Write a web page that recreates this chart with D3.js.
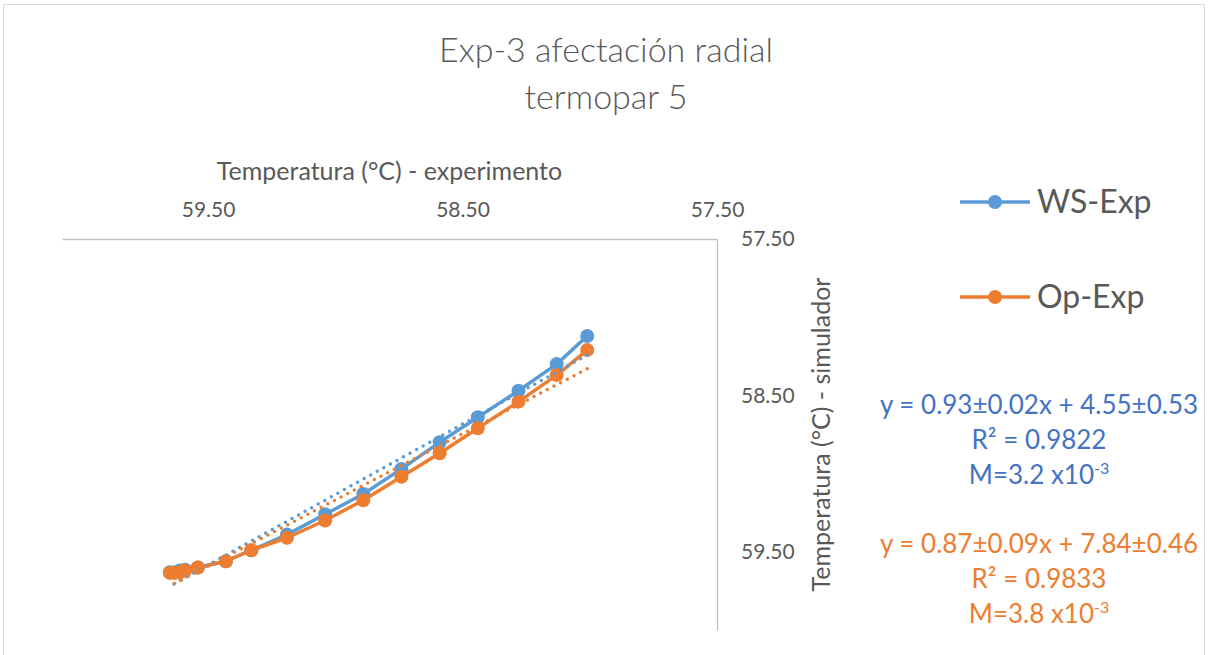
<!DOCTYPE html>
<html>
<head>
<meta charset="utf-8">
<script src="https://cdn.jsdelivr.net/npm/d3@7"></script>
<style>
  body { margin: 0; background: #fff; }
  text { font-family: Lato, "Open Sans", sans-serif; }
</style>
</head>
<body>
<script>
    //Data
        const xExp = [58.01, 58.13, 58.28, 58.44, 58.59, 58.74, 58.89, 59.04, 59.19, 59.33, 59.43, 59.54, 59.59, 59.61, 59.63, 59.65];
        const wsSim = [58.12, 58.30, 58.47, 58.64, 58.80, 58.97, 59.13, 59.26, 59.39, 59.49, 59.56, 59.60, 59.615, 59.62, 59.63, 59.63];
        const opSim = [58.21, 58.37, 58.54, 58.71, 58.87, 59.02, 59.17, 59.30, 59.41, 59.49, 59.56, 59.60, 59.62, 59.63, 59.635, 59.635];
        const xTicks = [59.5, 58.5, 57.5];
        const yTicks = [57.5, 58.5, 59.5];
        const seriesNames = ["WS-Exp", "Op-Exp"];
        const wsEq = ["y = 0.93±0.02x + 4.55±0.53", "R² = 0.9822", "M=3.2 x10"];
        const opEq = ["y = 0.87±0.09x + 7.84±0.46", "R² = 0.9833", "M=3.8 x10"];

    //consts
        const width = 1208;
        const height = 655;
        const plot = {left: 62, right: 717, top: 239, bottom: 630};
        const blue = "#5B9BD5", orange = "#ED7D31", eqBlue = "#4472C4", grey = "#595959";

    //Scales - both reversed like the excel chart
        const xScale = d3.scaleLinear().domain([60.074, 57.5]).range([plot.left, plot.right]);
        const yScale = d3.scaleLinear().domain([57.5, 60.0]).range([plot.top, plot.bottom]);

    //SVG
        const svg = d3.select("body").append("svg")
            .attr("width", width)
            .attr("height", height);

        svg.append("rect")
            .attr("x", 3.5).attr("y", 4.5)
            .attr("width", 1201).attr("height", 700)
            .attr("fill", "#fff").attr("stroke", "#d9d9d9");

    //Title
        svg.append("text")
            .attr("x", 606).attr("y", 62)
            .attr("text-anchor", "middle")
            .attr("font-size", 34).attr("font-weight", 300)
            .attr("fill", grey)
            .text("Exp-3 afectación radial");
        svg.append("text")
            .attr("x", 606).attr("y", 109)
            .attr("text-anchor", "middle")
            .attr("font-size", 34).attr("font-weight", 300)
            .attr("fill", grey)
            .text("termopar 5");

    //Axes
        const topAxis = d3.axisTop(xScale).tickValues(xTicks).tickSize(0).tickPadding(22).tickFormat(d3.format(".2f"));
        const gx = svg.append("g")
            .attr("transform", "translate(0," + plot.top + ")")
            .call(topAxis);
        gx.select(".domain").attr("stroke", "#bfbfbf").attr("stroke-width", 1.3);
        gx.selectAll("text").attr("font-size", 21).attr("fill", grey).style("font-family", "Lato, sans-serif");

        const rightAxis = d3.axisRight(yScale).tickValues(yTicks).tickSize(0).tickPadding(24).tickFormat(d3.format(".2f"));
        const gy = svg.append("g")
            .attr("transform", "translate(" + plot.right + ",0)")
            .call(rightAxis);
        gy.select(".domain").attr("stroke", "#bfbfbf").attr("stroke-width", 1.3);
        gy.selectAll("text").attr("font-size", 21).attr("fill", grey).style("font-family", "Lato, sans-serif");

        svg.append("text")
            .attr("x", (plot.left + plot.right) / 2).attr("y", 180)
            .attr("text-anchor", "middle")
            .attr("font-size", 25).attr("fill", grey)
            .text("Temperatura (°C) - experimento");

        svg.append("text")
            .attr("transform", "translate(830," + (plot.top + plot.bottom) / 2 + ") rotate(-90)")
            .attr("text-anchor", "middle")
            .attr("font-size", 25).attr("fill", grey)
            .text("Temperatura (°C) - simulador");

    //Series
        const series = [
            {name: seriesNames[0], values: wsSim, color: blue},
            {name: seriesNames[1], values: opSim, color: orange}
        ];

        const line = d3.line()
            .x(d => xScale(d[0]))
            .y(d => yScale(d[1]));

        series.forEach(s => {
            const pts = xExp.map((x, i) => [x, s.values[i]]);
            svg.append("path")
                .datum(pts)
                .attr("d", line)
                .attr("fill", "none")
                .attr("stroke", s.color)
                .attr("stroke-width", 3.5)
                .attr("stroke-linejoin", "round");
            svg.append("g").selectAll("circle")
                .data(pts)
                .enter()
                .append("circle")
                .attr("cx", d => xScale(d[0]))
                .attr("cy", d => yScale(d[1]))
                .attr("r", 7)
                .attr("fill", s.color);
        });

    //Linear trendlines (least squares of the drawn points)
        series.forEach(s => {
            const mx = d3.mean(xExp), my = d3.mean(s.values);
            let sxy = 0, sxx = 0;
            xExp.forEach((x, i) => { sxy += (x - mx) * (s.values[i] - my); sxx += (x - mx) * (x - mx); });
            const b = sxy / sxx, a = my - b * mx;
            const ends = d3.extent(xExp).map(x => [x, a + b * x]);
            svg.append("path")
                .datum(ends)
                .attr("d", line)
                .attr("fill", "none")
                .attr("stroke", s.color)
                .attr("stroke-width", 3.5)
                .attr("stroke-linecap", "round")
                .attr("stroke-dasharray", "0,7.5");
        });

    //Legend
        const legend = svg.append("g");
        series.forEach((s, i) => {
            const y = 202 + i * 95;
            legend.append("line")
                .attr("x1", 960).attr("x2", 1030)
                .attr("y1", y).attr("y2", y)
                .attr("stroke", s.color).attr("stroke-width", 3.5);
            legend.append("circle")
                .attr("cx", 995).attr("cy", y).attr("r", 7)
                .attr("fill", s.color);
            legend.append("text")
                .attr("x", 1037).attr("y", y + 11)
                .attr("font-size", 32).attr("fill", grey)
                .text(s.name);
        });

    //Equations
        const eqBlocks = [{lines: wsEq, color: eqBlue, top: 405}, {lines: opEq, color: orange, top: 544}];
        eqBlocks.forEach(b => {
            b.lines.forEach((t, i) => {
                const txt = svg.append("text")
                    .attr("x", 1039).attr("y", b.top + i * 35 + 9)
                    .attr("text-anchor", "middle")
                    .attr("font-size", 26).attr("fill", b.color);
                txt.append("tspan").text(t);
                if (i === 2) {
                    txt.append("tspan")
                        .attr("dy", -10).attr("font-size", 16)
                        .text("-3");
                }
            });
        });
</script>
</body>
</html>
